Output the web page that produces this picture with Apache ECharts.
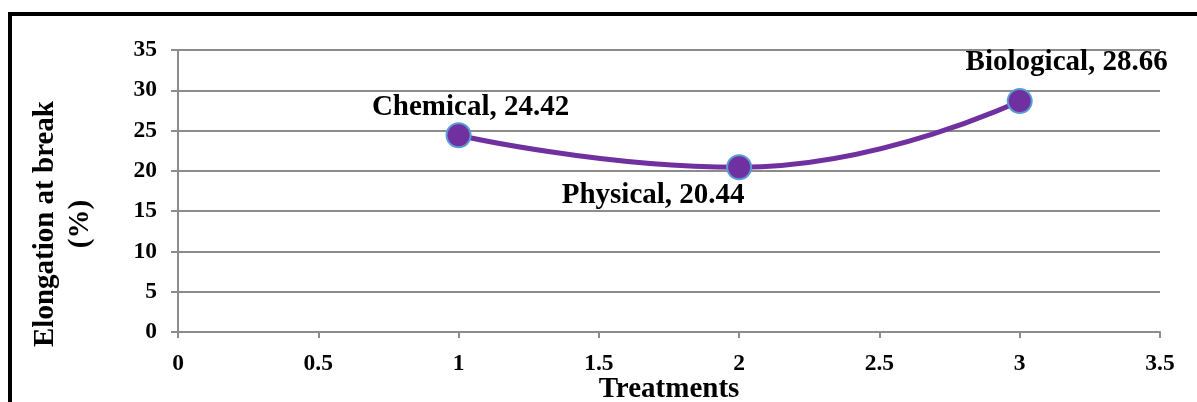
<!DOCTYPE html>
<html>
<head>
<meta charset="utf-8">
<script src="https://cdn.jsdelivr.net/npm/echarts@6/dist/echarts.min.js"></script>
<style>
html,body{margin:0;padding:0;background:#fff;overflow:hidden;}
#chart{width:1197px;height:402px;}
</style>
</head>
<body>
<div id="chart"></div>
<script>
const treatments = ['Chemical', 'Physical', 'Biological'];
const xValues = [1, 2, 3];
const elongation = [24.42, 20.44, 28.66];
const xAxisTitle = 'Treatments';
const yAxisTitle = 'Elongation at break\n(%)';

const FONT = '"Liberation Serif", "Times New Roman", serif';
const labelOffsets = [[12, -28], [-86, 28], [47, -39]];

const seriesData = xValues.map((x, i) => ({
  value: [x, elongation[i]],
  name: treatments[i],
  label: { offset: labelOffsets[i] }
}));

const chart = echarts.init(document.getElementById('chart'), null, { renderer: 'canvas' });
chart.setOption({
  animation: false,
  backgroundColor: '#fff',
  grid: { left: 178, right: 37, top: 50, bottom: 70, containLabel: false, outerBoundsMode: 'none' },
  xAxis: {
    type: 'value', min: 0, max: 3.5, interval: 0.5,
    axisLine: { show: true, lineStyle: { color: '#8c8c8c', width: 2 } },
    axisTick: { show: true, length: 6, lineStyle: { color: '#8c8c8c', width: 2 } },
    splitLine: { show: false },
    axisLabel: { color: '#000', fontFamily: FONT, fontWeight: 'bold', fontSize: 23.5, margin: 20 },
    name: xAxisTitle, nameLocation: 'middle', nameGap: 43, nameMoveOverlap: false,
    nameTextStyle: { color: '#000', fontFamily: FONT, fontWeight: 'bold', fontSize: 29 }
  },
  yAxis: {
    type: 'value', min: 0, max: 35, interval: 5,
    axisLine: { show: true, lineStyle: { color: '#8c8c8c', width: 2 } },
    axisTick: { show: true, length: 7, lineStyle: { color: '#8c8c8c', width: 2 } },
    splitLine: { show: true, lineStyle: { color: '#8c8c8c', width: 2 } },
    axisLabel: { color: '#000', fontFamily: FONT, fontWeight: 'bold', fontSize: 23.5, margin: 21 }
  },
  graphic: [
    { type: 'rect', silent: true, z: 100,
      shape: { x: 10, y: 14, width: 1200, height: 420 },
      style: { fill: 'none', stroke: '#000', lineWidth: 4 } },
    { type: 'text', x: 63, y: 224, rotation: Math.PI / 2, z: 100,
      style: { text: yAxisTitle, align: 'center', verticalAlign: 'middle',
        fontFamily: FONT, fontWeight: 'bold', fontSize: 29, lineHeight: 35, fill: '#000' } }
  ],
  series: [{
    type: 'line',
    data: seriesData,
    smooth: 0.5,
    lineStyle: { color: '#7030A0', width: 5 },
    symbol: 'circle', symbolSize: 24,
    itemStyle: { color: '#7030A0', borderColor: '#5B9BD5', borderWidth: 2 },
    label: {
      show: true, position: 'inside', align: 'center', verticalAlign: 'middle',
      formatter: p => p.name + ', ' + p.value[1].toFixed(2),
      color: '#000', fontFamily: FONT, fontWeight: 'bold', fontSize: 29
    }
  }]
});
</script>
</body>
</html>
